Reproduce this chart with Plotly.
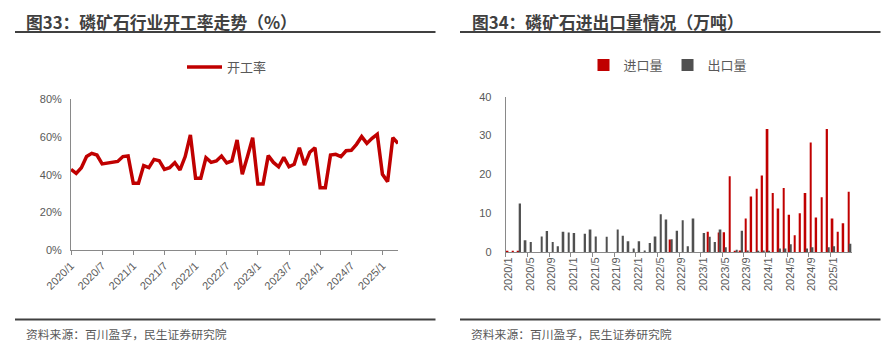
import plotly.graph_objects as go

# ---------------- data ----------------
months = [f"{y}/{m}" for y in range(2020, 2026) for m in range(1, 13)][:64]

utilization = [
    42.8, 40.7, 43.7, 49.6, 51.3, 50.4, 45.7, 46.0, 46.4, 47.0, 49.6, 49.9,
    35.4, 35.4, 44.8, 43.7, 48.1, 47.4, 42.8, 43.7, 46.4, 42.5, 49.6, 61.1,
    38.1, 38.1, 49.0, 46.5, 47.3, 49.9, 46.2, 47.3, 58.4, 40.2, 49.6, 59.6,
    35.0, 35.0, 50.1, 46.5, 44.2, 49.2, 44.2, 45.5, 54.3, 45.1, 51.9, 54.3,
    33.1, 33.1, 50.4, 50.8, 49.6, 52.7, 52.9, 56.1, 60.2, 56.6, 59.3, 61.4,
    40.2, 36.3, 59.6, 56.6,
]

imports = [
    0.1, 0.1, 0.1, 0, 0, 0, 0, 0, 0, 0, 0, 0,
    0, 0, 0, 0, 0, 0, 0, 0, 0, 0, 0, 0,
    0, 0, 0, 0, 0, 0, 3.2, 0, 0, 0, 0, 0,
    0, 5.2, 0, 5.0, 5.1, 19.5, 0.3, 0.4, 8.6, 14.3, 16.3, 19.7,
    31.7, 15.2, 11.2, 16.5, 9.6, 4.3, 10.0, 15.2, 28.2, 8.9, 14.1, 31.7,
    8.6, 5.2, 7.4, 15.5,
]

exports = [
    0, 0, 12.5, 3.0, 2.6, 0, 4.0, 5.4, 2.6, 1.5, 5.2, 5.0,
    4.9, 0, 4.7, 5.8, 4.0, 0, 3.9, 0, 5.8, 4.2, 2.8, 0.9,
    2.75, 0.4, 2.3, 4.0, 9.7, 8.4, 3.3, 5.5, 8.2, 1.5, 8.6, 0,
    4.9, 3.9, 2.6, 5.8, 1.2, 0, 0.6, 5.5, 0.4, 0, 0.3, 0.4,
    0.2, 0, 0.9, 0.9, 2.0, 0, 0, 0.9, 1.2, 0, 0, 1.2,
    1.5, 0, 0, 2.1,
]

left_yticks = [0, 20, 40, 60, 80]
left_yticktext = ["0%", "20%", "40%", "60%", "80%"]
right_yticks = [0, 10, 20, 30, 40]

title_left = "图33：磷矿石行业开工率走势（%）"
title_right = "图34：磷矿石进出口量情况（万吨）"
source_text = "资料来源：百川盈孚，民生证券研究院"

# ---------------- styles ----------------
RED = "#C00000"
GRAY_BAR = "#505050"
TXT = "#595959"
AXIS = "#898989"
FONT = "Liberation Sans, Noto Sans CJK SC, sans-serif"
CJK = "Noto Sans CJK SC, sans-serif"

# the page body has an 8px default margin; size the figure to fit inside
OFF = 8
W, H = 896 - 2 * OFF, 357 - 2 * OFF


def px(x):
    return (x - OFF) / W


def py(y):
    return 1 - (y - OFF) / H


fig = go.Figure()

fig.add_trace(go.Scatter(
    x=months, y=utilization, mode="lines", name="开工率",
    line=dict(color=RED, width=3.5), xaxis="x", yaxis="y", legend="legend",
))

fig.add_trace(go.Bar(
    x=months, y=imports, name="进口量", marker=dict(color=RED, line=dict(width=0)),
    xaxis="x2", yaxis="y2", legend="legend2",
))
fig.add_trace(go.Bar(
    x=months, y=exports, name="出口量", marker=dict(color=GRAY_BAR, line=dict(width=0)),
    xaxis="x2", yaxis="y2", legend="legend2",
))

tickfont = dict(family=FONT, size=11, color=TXT)

fig.update_layout(
    width=W, height=H,
    margin=dict(l=0, r=0, t=0, b=0, autoexpand=False),
    paper_bgcolor="white", plot_bgcolor="white",
    barmode="group", bargap=0.36, bargroupgap=0,
    font=dict(family=FONT, color=TXT),
    xaxis=dict(
        domain=[px(71), px(398)], anchor="y", type="category",
        range=[0, 63], tickmode="linear", tick0=0, dtick=6,
        tickangle=-45, ticks="outside", ticklen=4, tickcolor=AXIS,
        showline=True, linecolor=AXIS, linewidth=1, showgrid=False,
        tickfont=tickfont, zeroline=False, automargin=False,
    ),
    yaxis=dict(
        domain=[py(250), py(99.3)], anchor="x",
        range=[0, 80], tickmode="array", tickvals=left_yticks, ticktext=left_yticktext,
        showline=True, linecolor=AXIS, linewidth=1, showgrid=False,
        ticks="", tickfont=tickfont, zeroline=False, ticklabelstandoff=6,
        automargin=False,
    ),
    xaxis2=dict(
        domain=[px(505.7), px(852.3)], anchor="y2", type="category",
        range=[-0.5, 63.5], tickmode="linear", tick0=0, dtick=4,
        tickson="boundaries", tickangle=-90, ticks="outside", ticklen=4,
        tickcolor=AXIS, showline=True, linecolor=AXIS, linewidth=1,
        showgrid=False, tickfont=tickfont, zeroline=False, automargin=False,
    ),
    yaxis2=dict(
        domain=[py(252), py(96.7)], anchor="x2",
        range=[0, 40], tickmode="array", tickvals=right_yticks,
        showline=True, linecolor=AXIS, linewidth=1, showgrid=False,
        ticks="", tickfont=tickfont, zeroline=False, ticklabelstandoff=11,
        automargin=False,
    ),
    legend=dict(
        x=px(227), y=py(67), xanchor="center", yanchor="middle",
        orientation="h", font=dict(family=CJK, size=13, color=TXT),
        bgcolor="rgba(0,0,0,0)", itemwidth=35,
    ),
    legend2=dict(
        x=px(668), y=py(65), xanchor="center", yanchor="middle",
        orientation="h", font=dict(family=CJK, size=13, color=TXT),
        bgcolor="rgba(0,0,0,0)", itemwidth=30,
    ),
    showlegend=True,
)

title_font = dict(family=CJK, size=16.8, color="#404040", weight="bold")
src_font = dict(family=CJK, size=11.8, color=TXT)

fig.add_annotation(text=title_left, x=px(24), y=py(22), xref="paper", yref="paper",
                   xanchor="left", yanchor="middle", showarrow=False, font=title_font)
fig.add_annotation(text=title_right, x=px(470), y=py(22), xref="paper", yref="paper",
                   xanchor="left", yanchor="middle", showarrow=False, font=title_font)
fig.add_annotation(text=source_text, x=px(24), y=py(333), xref="paper", yref="paper",
                   xanchor="left", yanchor="middle", showarrow=False, font=src_font)
fig.add_annotation(text=source_text, x=px(469), y=py(333), xref="paper", yref="paper",
                   xanchor="left", yanchor="middle", showarrow=False, font=src_font)

line_style = dict(color="#404040", width=2)
for x0, x1 in [(15, 435.5), (460, 880.5)]:
    fig.add_shape(type="line", xref="paper", yref="paper",
                  x0=px(x0), x1=px(x1), y0=py(32), y1=py(32), line=line_style)
    fig.add_shape(type="line", xref="paper", yref="paper",
                  x0=px(x0), x1=px(x1), y0=py(319.5), y1=py(319.5), line=line_style)

fig.write_html("out.html")
